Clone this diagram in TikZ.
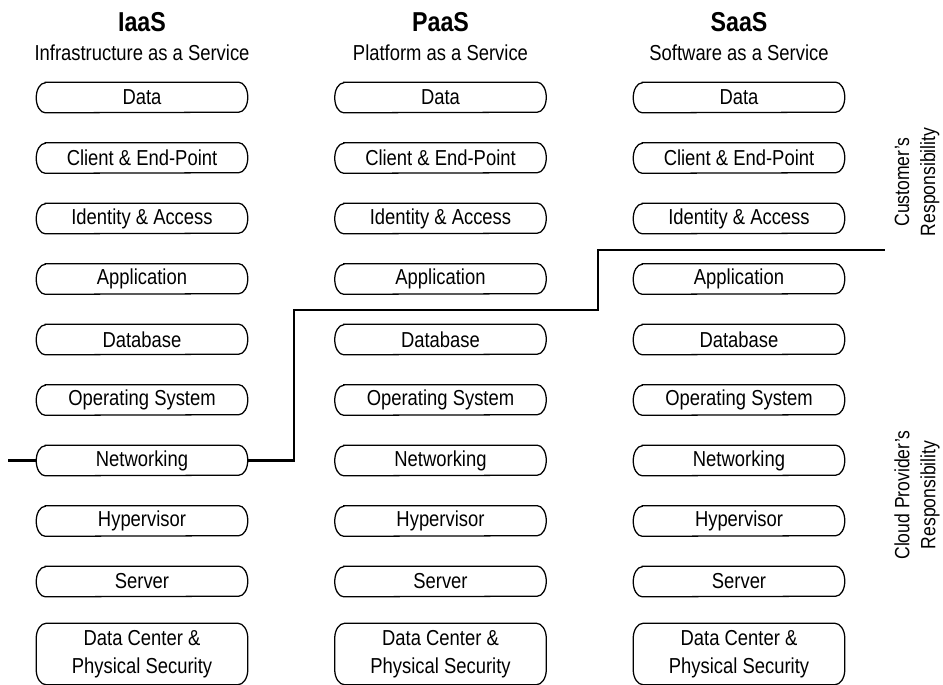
\documentclass[tikz,border=0pt]{standalone}
\usepackage{fontspec}
\setmainfont[FakeStretch=0.85]{Liberation Sans}
\newcommand\pillbox[1]{%
  \draw[boxline] ([xshift=6.75pt]#1.north west) -- ([xshift=-6.75pt]#1.north east)
    arc[start angle=90,end angle=-90,x radius=6.75pt,y radius=11.25pt]
    -- ([xshift=6.75pt]#1.south west)
    arc[start angle=270,end angle=90,x radius=6.75pt,y radius=11.25pt] -- cycle;}
\newcommand\bigbox[1]{%
  \draw[boxline] ([xshift=7.5pt]#1.north west) -- ([xshift=-7.5pt]#1.north east)
    arc[start angle=90,end angle=0,x radius=7.5pt,y radius=11.25pt]
    -- ([yshift=11.25pt]#1.south east)
    arc[start angle=0,end angle=-90,x radius=7.5pt,y radius=11.25pt]
    -- ([xshift=7.5pt]#1.south west)
    arc[start angle=270,end angle=180,x radius=7.5pt,y radius=11.25pt]
    -- ([yshift=-11.25pt]#1.north west)
    arc[start angle=180,end angle=90,x radius=7.5pt,y radius=11.25pt] -- cycle;}
\begin{document}
\begin{tikzpicture}[x=0.75pt,y=-0.75pt,
  boxline/.style={line width=0.95pt},
  resp/.style={line width=2.2pt},
  cell/.style={minimum width=158.25pt,minimum height=22.5pt,inner sep=0pt,
    font=\fontsize{16.25}{19}\selectfont},
  bigcell/.style={cell,minimum height=45.75pt,align=center,
    font=\fontsize{16.25}{21}\selectfont},
  head/.style={font=\fontsize{20.5}{24}\selectfont\bfseries,inner sep=0pt},
  sub/.style={font=\fontsize{16.25}{19}\selectfont,inner sep=0pt},
  side/.style={rotate=90,align=center,inner sep=0pt,font=\fontsize{15.5}{19.5}\selectfont}]
\useasboundingbox (0,0) rectangle (943,685);
\foreach \col/\cx/\hd/\sb in {i/142/IaaS/Infrastructure as a Service,p/440.5/PaaS/Platform as a Service,s/739/SaaS/Software as a Service}{
  \node[head] (\col h) at (\cx,22) {\hd};
  \node[sub] (\col sub) at (\cx,53) {\sb};
  \foreach \lab [count=\r] in {Data,Client \& End-Point,Identity \& Access,Application,Database,Operating System,Networking,Hypervisor,Server}{
    \node[cell] (\col\r) at (\cx,{97.5+60.5*(\r-1)}) {\lab};
    \pillbox{\col\r}
  }
  \node[bigcell] (\col dc) at (\cx,654) {Data Center \&\\Physical Security};
  \bigbox{\col dc}
}
\coordinate (lstart) at (8,460.5);
\coordinate (c1) at (294,460.5);
\coordinate (c2) at (598,310);
\coordinate (rend) at (885,250);
\draw[resp] (lstart) -- (i7.west);
\draw[resp] (i7.east) -- (c1) |- (c2) |- (rend);
\node[side] (cust) at (917,182) {Customer’s\\Responsibility};
\node[side] (prov) at (917,495) {Cloud Provider’s\\Responsibility};
\end{tikzpicture}
\end{document}
